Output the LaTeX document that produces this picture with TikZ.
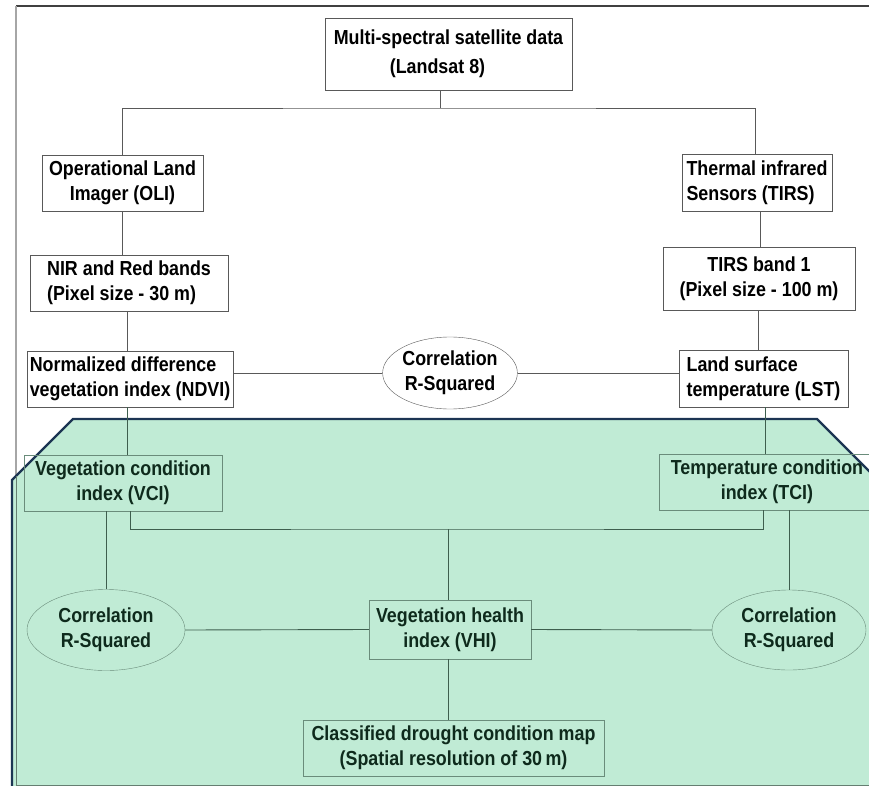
\documentclass[tikz,border=0pt]{standalone}
\usepackage{fontspec}
\setmainfont{Liberation Sans}[FakeStretch=0.88]
\usetikzlibrary{shapes.geometric}
\definecolor{greenbg}{HTML}{C0EBD5}
\definecolor{navyline}{HTML}{1C3553}
\definecolor{greentext}{HTML}{0E2A1C}
\definecolor{greenline}{HTML}{3E5E4E}
\definecolor{greenedge}{HTML}{6A8C7B}
\tikzset{
  box/.style={draw=black!65, fill=white, align=center, inner sep=0pt,
    font=\fontsize{20.3}{25}\selectfont\bfseries},
  gbox/.style={box, draw=greenedge, fill=none, text=greentext},
  oval/.style={ellipse, draw=black!65, fill=white, align=center, inner sep=0pt,
    font=\fontsize{20.3}{25}\selectfont\bfseries},
  goval/.style={oval, draw=greenedge, fill=none, text=greentext},
  link/.style={draw=black!65, line width=0.9pt},
  glink/.style={draw=greenline, line width=0.9pt}
}
\begin{document}
\begin{tikzpicture}[x=1pt,y=-1pt]
\useasboundingbox (0,0) rectangle (869,786);
\clip (0,0) rectangle (869,786);
% outer frame
\draw[black!75, line width=1.5pt] (880,6) -- (16,6);
\draw[black!35, line width=2pt] (16,6) -- (16,790);
% green part
\filldraw[fill=greenbg, draw=navyline, line width=2.2pt]
  (12,800) -- (12,480) -- (73,419) -- (817,419) -- (880,482) -- (880,800) -- cycle;
\draw[greenline!80, line width=1pt] (16,476) -- (16,785) -- (880,785);

% upper boxes
\node[box, minimum width=247pt, minimum height=72pt] (sat) at (448.5,54)
  {Multi-spectral satellite data\\[4pt]\hspace*{-22pt}(Landsat 8)};
\node[box, minimum width=161pt, minimum height=56pt] (oli) at (122.5,183)
  {Operational Land\\Imager (OLI)};
\node[box, align=left, minimum width=150pt, minimum height=57pt] (tirs) at (757,182.5)
  {Thermal infrared\\Sensors (TIRS)};
\node[box, align=left, minimum width=198pt, minimum height=56pt] (nir) at (129,283)
  {NIR and Red bands\\(Pixel size - 30 m)};
\node[box, minimum width=192pt, minimum height=63pt] (tband) at (759,278.5)
  {TIRS band 1\\(Pixel size - 100 m)};
\node[box, align=left, minimum width=206pt, minimum height=56pt] (ndvi) at (130,379)
  {Normalized difference\\vegetation index (NDVI)};
\node[box, align=left, minimum width=169pt, minimum height=57pt] (lst) at (763.5,378.5)
  {Land surface\\temperature (LST)};
\node[oval, minimum width=124pt, minimum height=72pt] (corr) at (450,373)
  {Correlation\\R-Squared};

% lower boxes
\node[gbox, minimum width=198pt, minimum height=56pt] (vci) at (123,483)
  {Vegetation condition\\index (VCI)};
\node[gbox, minimum width=216pt, minimum height=56pt] (tci) at (767,482)
  {Temperature condition\\index (TCI)};
\node[gbox, minimum width=162pt, minimum height=59pt] (vhi) at (450,629.5)
  {Vegetation health\\index (VHI)};
\node[goval, minimum width=158pt, minimum height=81pt] (corrl) at (106,630)
  {Correlation\\R-Squared};
\node[goval, minimum width=154pt, minimum height=80pt] (corrr) at (789,630)
  {Correlation\\R-Squared};
\node[gbox, minimum width=301pt, minimum height=56pt] (map) at (453.5,748)
  {Classified drought condition map\\(Spatial resolution of 30\,m)};

% connectors
\coordinate (split) at (440,108);
\coordinate (merge) at (448,529);
\draw[link] (sat.south -| split) -- (split);
\draw[link] (oli.north) |- (split) -| ([xshift=-2pt]tirs.north);
\draw[link] (oli.south) -- (oli.south |- nir.north);
\draw[link] ([xshift=-2pt]nir.south) -- ([xshift=-2pt]nir.south |- ndvi.north);
\draw[link] ([xshift=3pt]tirs.south) -- ([xshift=3pt]tirs.south |- tband.north);
\draw[link] ([xshift=-1pt]tband.south) -- ([xshift=-1pt]tband.south |- lst.north);
\draw[link] (corr.west) -- (corr.west -| ndvi.east);
\draw[link] (corr.east) -- (corr.east -| lst.west);
\draw[glink] ([xshift=-3pt]ndvi.south) -- ([xshift=-3pt]ndvi.south |- vci.north);
\draw[glink] ([xshift=2pt]lst.south) -- ([xshift=2pt]lst.south |- tci.north);
\draw[glink] (corrl.north) -- (corrl.north |- vci.south);
\draw[glink] ([xshift=7pt]vci.south) |- (merge) -| ([xshift=-4pt]tci.south);
\draw[glink] (merge) -- (merge |- vhi.north);
\draw[glink] (corrr.north) -- (corrr.north |- tci.south);
\draw[glink] (corrl.east) -- (vhi.west);
\draw[glink] (vhi.east) -- (corrr.west);
\draw[glink] ([xshift=-2pt]vhi.south) -- ([xshift=-2pt]vhi.south |- map.north);
\end{tikzpicture}
\end{document}
